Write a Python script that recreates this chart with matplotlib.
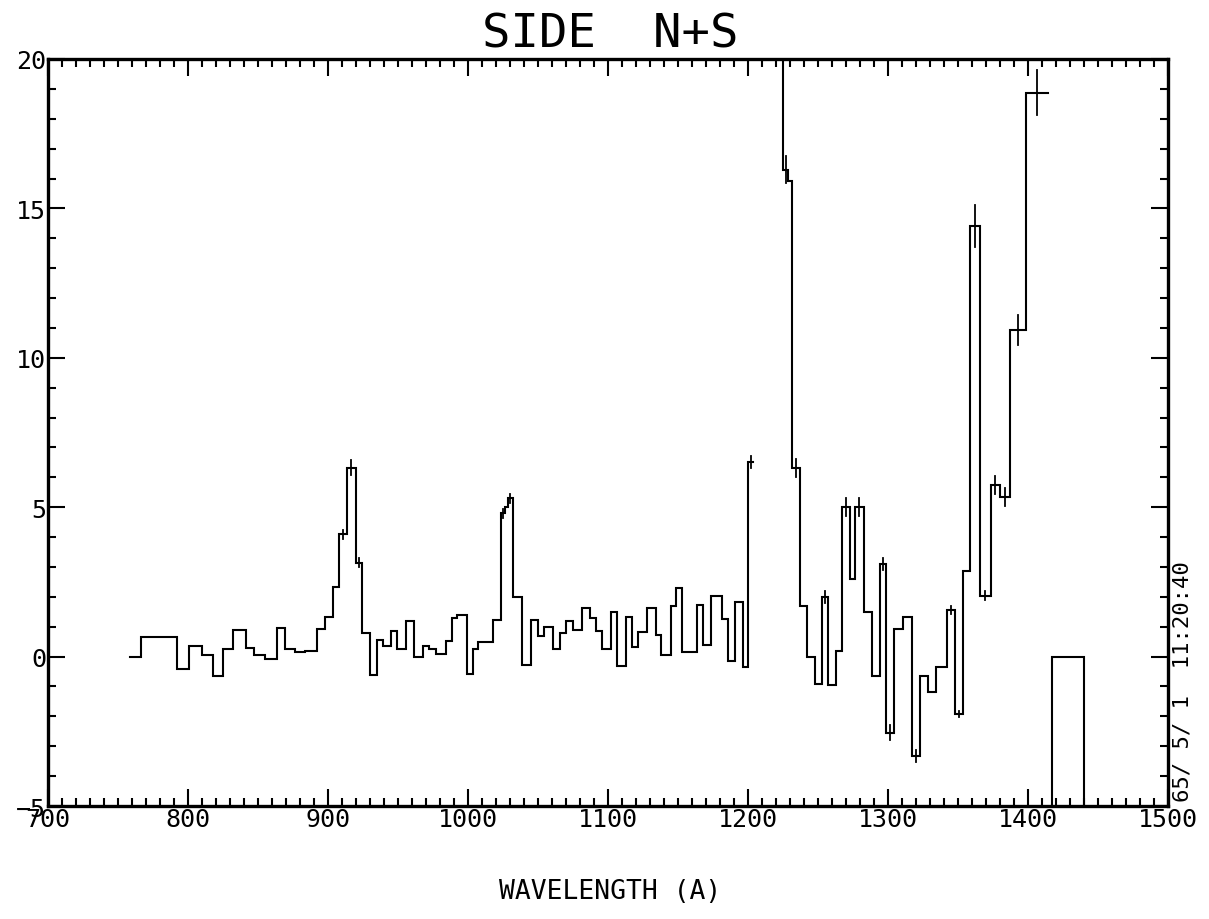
import numpy as np
import matplotlib
matplotlib.use("Agg")
import matplotlib.pyplot as plt
from matplotlib.ticker import MultipleLocator

# bin edges (Angstrom) and counts
edges = [758.8, 766.5, 792.2, 801, 810, 818.1, 825.2, 832.4, 841.7, 847.4,
         855.2, 863.8, 869.5, 876.6, 884, 892.1, 898, 903.8, 908.1, 913.6,
         920.2, 924.3, 930.2, 935, 939.5, 945.2, 949.5, 955.9, 961.6, 968,
         972.3, 977.3, 984.3, 988.5, 992.1, 999.2, 1003.5, 1007.3, 1018, 1023.7,
         1026.6, 1028.7, 1032.3, 1038.5, 1045.2, 1050.2, 1054.5, 1060.9, 1065.9, 1070,
         1075.2, 1081.6, 1087.4, 1091.6, 1095.6, 1102.1, 1106.6, 1112.8, 1117.3, 1121.6,
         1127.8, 1134.2, 1138, 1144.9, 1148.7, 1153, 1163.5, 1167.8, 1173.7, 1181.3,
         1185.8, 1190.8, 1196.3, 1200.3, 1203.9, 1220, 1225.4, 1228.5, 1231.3, 1237.3,
         1242, 1248, 1252.7, 1257, 1263, 1267, 1273, 1276.8, 1282.7, 1288.7,
         1294.6, 1298.6, 1304.3, 1310.6, 1317, 1322.9, 1328.6, 1334.3, 1342, 1347.9,
         1353.4, 1358.6, 1365.7, 1373.6, 1380, 1387.2, 1398.6, 1414.5]

vals = [0.0, 0.65, -0.4, 0.34, 0.05, -0.66, 0.24, 0.88, 0.3, 0.07,
        -0.07, 0.95, 0.27, 0.15, 0.2, 0.92, 1.32, 2.33, 4.09, 6.32,
        3.14, 0.78, -0.6, 0.54, 0.37, 0.85, 0.27, 1.19, -0.02, 0.35,
        0.24, 0.1, 0.52, 1.28, 1.4, -0.58, 0.27, 0.5, 1.22, 4.8,
        5.0, 5.3, 2.0, -0.27, 1.22, 0.69, 0.98, 0.27, 0.78, 1.19,
        0.89, 1.62, 1.28, 0.85, 0.24, 1.49, -0.33, 1.33, 0.31, 0.84,
        1.62, 0.71, 0.07, 1.7, 2.3, 0.17, 1.72, 0.4, 2.04, 1.25,
        -0.16, 1.82, -0.34, 6.5, np.nan, 60, 16.3, 15.9, 6.3, 1.7,
        0.0, -0.9, 2.0, -0.95, 0.2, 5.0, 2.6, 5.0, 1.5, -0.65,
        3.1, -2.55, 0.92, 1.32, -3.32, -0.64, -1.18, -0.35, 1.56, -1.92,
        2.87, 14.4, 2.03, 5.73, 5.34, 10.93, 18.87]

# error bars drawn on some bins (bin index, half length)
err_idx = [18, 19, 20, 39, 41, 73, 76, 78, 82, 85, 87, 90, 91, 94, 98, 99,
           101, 102, 103, 104, 105, 106]
err_half = [0.15, 0.25, 0.15, 0.15, 0.15, 0.2, 0.45, 0.3, 0.2, 0.3, 0.3, 0.2,
            0.25, 0.2, 0.15, 0.1, 0.7, 0.15, 0.3, 0.3, 0.5, 0.75]

# marker box at the right
box_left = 1417
box_right = 1440
box_top = 0.0

edges = np.array(edges)
vals = np.array(vals)

plt.rcParams['font.family'] = ['DejaVu Sans Mono']

fig = plt.figure(figsize=(12.09, 9.2), dpi=100)
ax = fig.add_axes([0.0394, 0.1228, 0.9266, 0.812])

xs = np.repeat(edges, 2)[1:-1]
ys = np.repeat(vals, 2)
ax.plot(xs, ys, color='black', lw=1.5, solid_joinstyle='miter')

centers = (edges[:-1] + edges[1:]) / 2
for i, h in zip(err_idx, err_half):
    ax.plot([centers[i], centers[i]], [vals[i] - h, vals[i] + h], color='black', lw=1.3)

ax.bar((box_left + box_right) / 2, box_top + 10, width=box_right - box_left,
       bottom=-10, fill=False, edgecolor='black', lw=1.5)

ax.set_xlim(700, 1500)
ax.set_ylim(-5, 20)
ax.xaxis.set_major_locator(MultipleLocator(100))
ax.xaxis.set_minor_locator(MultipleLocator(10))
ax.yaxis.set_major_locator(MultipleLocator(5))
ax.yaxis.set_minor_locator(MultipleLocator(1))
ax.tick_params(which='both', direction='in', top=True, right=True, width=1.5,
               labelsize=18, pad=1)
ax.tick_params(which='major', length=12)
ax.tick_params(which='minor', length=6)
for s in ax.spines.values():
    s.set_linewidth(2.4)

fig.text(0.505, 0.962, 'SIDE  N+S', ha='center', va='center', fontsize=34)
fig.text(0.505, 0.030, 'WAVELENGTH (A)', ha='center', va='center', fontsize=19)
fig.text(0.978, 0.128, '65/ 5/ 1  11:20:40', rotation=90, ha='center', va='bottom',
         fontsize=16)

fig.savefig('out.png', dpi=100)
